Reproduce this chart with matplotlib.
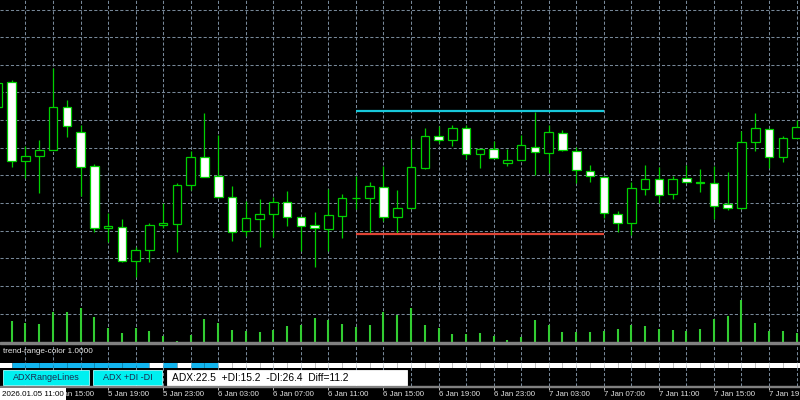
import numpy as np
import matplotlib
matplotlib.use("Agg")
import matplotlib.pyplot as plt
from matplotlib.collections import LineCollection
from matplotlib.patches import Rectangle

plt.rcParams['font.family'] = ['Liberation Sans', 'DejaVu Sans']

# hourly bars, index 0 = 5 Jan 12:00 (index -1 is the cut off 11:00 bar)
bar_index = list(range(-1, 58))
# prices (smaller row = higher price)
opens = [106.7, 82.3, 161.3, 156, 150, 106.7, 131.7, 166, 228.3, 226.7,
         261.3, 250, 225.3, 223.7, 184.7, 157.3, 176, 197, 230.7, 219,
         214.3, 202.3, 217, 225.3, 229.3, 215.7, 197.7, 197.7, 186.7, 217.3,
         207.7, 167.7, 136.3, 139.7, 128.3, 154.3, 149, 163, 159.7, 146.7,
         153.3, 133.3, 150.7, 170.7, 176.7, 213.7, 223.3, 188.7, 179.3, 194.3,
         178.3, 182, 182.7, 204.3, 208.3, 142.3, 129.3, 156.7, 138.3]
highs = [78, 80, 145.7, 140, 68.3, 100, 125, 164, 213.3, 219.3,
         247.3, 223.3, 203.3, 182.7, 150.7, 113.3, 135, 186, 201, 199.3,
         197.3, 191, 217, 211.7, 189, 194.3, 176, 181.7, 166, 190,
         139.3, 127.7, 126, 125, 125, 149, 140.7, 149.3, 135, 111.7,
         125, 130, 146.7, 165, 176, 210.7, 181.7, 165, 166.7, 176,
         165, 169.3, 166, 172, 130.7, 112.7, 129.3, 136, 120]
lows = [112, 167.3, 178.3, 193.3, 150, 136.7, 196, 231.7, 241.7, 262.3,
        277.3, 261.7, 228.3, 251.7, 190, 177.3, 198.3, 241, 235.7, 247.3,
        236.7, 226, 251, 266.7, 251, 238.3, 209.3, 234, 221, 233.3,
        207.7, 168.7, 143.3, 146, 159, 168.3, 157.7, 166, 159.7, 175,
        173.3, 151, 183.3, 181.7, 217.7, 231.7, 235, 195, 202.7, 199.3,
        183.3, 191.7, 219.3, 210, 209, 151, 167.7, 161.7, 138.3]
closes = [82.7, 161, 156, 150, 106.7, 126, 166.7, 228.3, 226, 261.3,
          250, 224.7, 223, 185, 157.3, 176.7, 197.3, 232, 218.3, 214,
          202.3, 217.3, 225.7, 228.3, 215.3, 198.3, 197.7, 186, 217.3, 208.3,
          167, 136.3, 139.7, 128.3, 154.3, 149, 157.7, 160, 145.3, 152.3,
          132.3, 150, 170.3, 176.3, 212.7, 223, 188.3, 179.3, 194.7, 179.3,
          181.7, 182, 206, 208.3, 142.3, 128.3, 156.7, 137.7, 127.3]
# tick volume, bars 0..57
volumes = [21, 19, 18, 30, 30, 34, 25, 14, 9, 14, 11, 6, 1, 7, 23, 19, 12, 11, 10, 12,
           16, 17, 24, 22, 18, 15, 17, 30, 27, 34, 17, 14, 8, 8, 9, 6, 2, 5, 22, 17,
           10, 10, 10, 11, 13, 17, 16, 13, 12, 11, 13, 23, 26, 42, 19, 11, 11, 9]
# trend-range-color state of the segment starting at each bar (1 = range)
range_state = [0, 1, 1, 1, 1, 1, 1, 1, 1, 1, 1, 0, 1, 0, 1, 1] + [0] * 43

level_high = 111
level_low = 234
level_from, level_to = 25, 43

tick_bars = [3, 7, 11, 15, 19, 23, 27, 31, 35, 39, 43, 47, 51, 55]
tick_labels = ['5 Jan 15:00', '5 Jan 19:00', '5 Jan 23:00', '6 Jan 03:00',
               '6 Jan 07:00', '6 Jan 11:00', '6 Jan 15:00', '6 Jan 19:00',
               '6 Jan 23:00', '7 Jan 03:00', '7 Jan 07:00', '7 Jan 11:00',
               '7 Jan 15:00', '7 Jan 19:00']

GRID = '#778899'
CANDLE = '#00D000'
VOL = '#32CD32'
BTN = '#00F0F0'
DASH = (0, (3, 2))
XLIM = (-0.85, 57.25)

fig = plt.figure(figsize=(8, 4), dpi=100, facecolor='black')

# main window
ax = fig.add_axes([0, 58 / 400, 1, 342 / 400])
ax.set_xlim(*XLIM)
ax.set_ylim(342, 0)
ax.set_axis_off()
for r in np.arange(9.5, 320, 27.65):
    ax.axhline(r, color=GRID, lw=0.75, ls=DASH, zorder=0)
for i in range(1, 58, 2):
    ax.axvline(i, color=GRID, lw=0.75, ls=DASH, zorder=0)

ax.vlines(range(len(volumes)), 341.7, 341.7 - np.array(volumes), color=VOL, lw=1.5, zorder=1)

o = np.array(opens)
c = np.array(closes)
ax.vlines(bar_index, highs, lows, color=CANDLE, lw=0.9, zorder=3)
body_col = ['black' if cc < oo else 'white' for oo, cc in zip(o, c)]
ax.bar(bar_index, np.maximum(np.abs(o - c), 0.6), bottom=np.minimum(o, c), width=0.62,
       color=body_col, edgecolor=CANDLE, linewidth=0.9, zorder=4)

ax.hlines(level_high, level_from, level_to, color='#18C8DA', lw=1.6, zorder=5)
ax.hlines(level_low, level_from, level_to, color='#E04434', lw=1.6, zorder=5)

# indicator sub window
ax2 = fig.add_axes([0, 14 / 400, 1, 42 / 400])
ax2.set_facecolor('black')
ax2.set_xlim(*XLIM)
ax2.set_ylim(0, 2)
for s in ax2.spines.values():
    s.set_visible(False)
for i in range(1, 58, 2):
    ax2.axvline(i, color=GRID, lw=0.75, ls=DASH, zorder=0)
segs = [[(i, 1), (i + 1, 1)] for i in bar_index]
cols = ['#12B4EE' if st else 'white' for st in range_state]
ax2.add_collection(LineCollection(segs, colors=cols, linewidths=3.6, capstyle='butt', zorder=2))
ax2.text(0.0035, 0.81, 'trend-range-color 1.0000', transform=ax2.transAxes,
         color='#E8E8E8', fontsize=5.9, va='center', ha='left')
ax2.set_yticks([])
ax2.set_xticks(tick_bars, tick_labels)
ax2.tick_params(axis='x', colors='#E0E0E0', length=3, width=0.6, pad=0.6, labelsize=5.7)
for lbl in ax2.get_xticklabels():
    lbl.set_ha('left')

# overlay: separators, buttons, info box
ov = fig.add_axes([0, 0, 1, 1])
ov.set_xlim(0, 800)
ov.set_ylim(400, 0)
ov.set_axis_off()
ov.patch.set_alpha(0)
ov.add_patch(Rectangle((0, 342), 800, 2, color='#808080'))
ov.add_patch(Rectangle((0, 385.5), 800, 1.5, color='#808080'))

ov.add_patch(Rectangle((3.3, 370), 86, 15, facecolor=BTN, edgecolor='#A0FFFF', lw=0.6))
ov.text(46.3, 377.8, 'ADXRangeLines', ha='center', va='center', fontsize=6.5, color='#1C2C50')
ov.add_patch(Rectangle((93.3, 370), 69, 15, facecolor=BTN, edgecolor='#A0FFFF', lw=0.6))
ov.text(127.8, 377.8, 'ADX +DI -DI', ha='center', va='center', fontsize=6.5, color='#1C2C50')
ov.add_patch(Rectangle((167, 370), 240, 15, facecolor='white', edgecolor='white', lw=0.6))
ov.text(171.5, 378, 'ADX:22.5  +DI:15.2  -DI:26.4  Diff=11.2', ha='left', va='center',
        fontsize=7.4, color='black')

ov.add_patch(Rectangle((0, 388), 66, 12, facecolor='white', edgecolor='none'))
ov.text(1.5, 394.5, '2026.01.05 11:00', ha='left', va='center', fontsize=5.8, color='black')

fig.savefig('out.png', dpi=100, facecolor='black')
